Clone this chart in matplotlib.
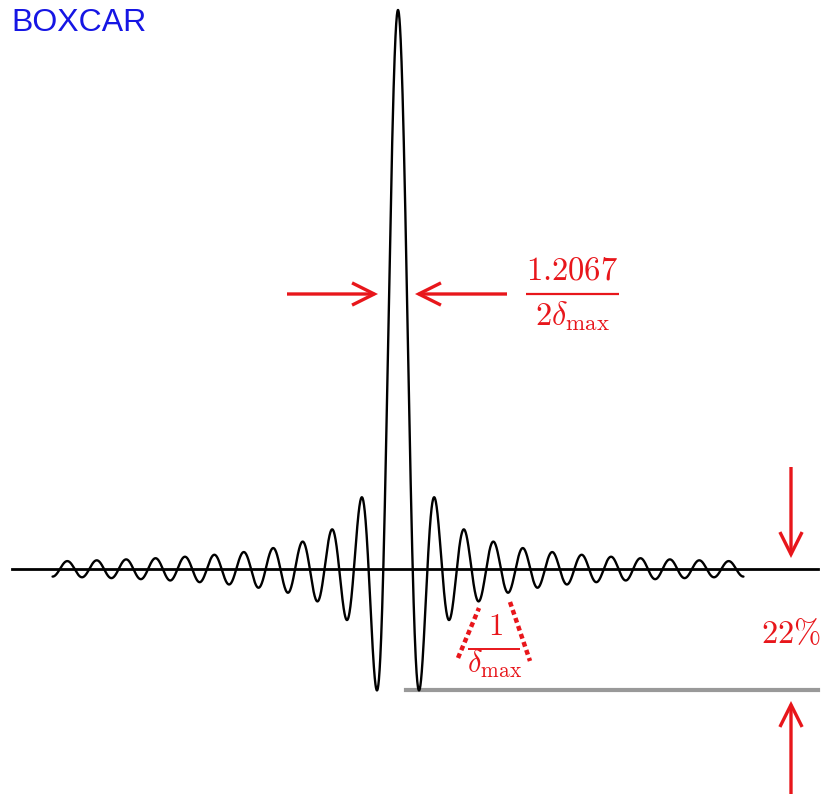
import numpy as np
import matplotlib
matplotlib.use("Agg")
import matplotlib.pyplot as plt
from matplotlib.patches import FancyArrowPatch

plt.rcParams['mathtext.fontset'] = 'cm'

# ---- data (sinc instrument line shape of a boxcar apodization) ----
x_min, x_max = -23.5, 23.5          # in units of 1/(2*delta_max)
n_points = 4000
title_text = "BOXCAR"
fwhm_num = r'$1.2067$'
fwhm_den = r'$2\delta_{\max}$'
period_num = r'$1$'
period_den = r'$\delta_{\max}$'
sidelobe_label = r'$22\%$'

u = np.linspace(x_min, x_max, n_points)
ils = np.sinc(u)
min_val = ils.min()

W, H = 823, 794
fig = plt.figure(figsize=(W / 100, H / 100), dpi=100)

# main data axes (sinc units)
ax = fig.add_axes([0, 0, 1, 1])
cx, sx = 398.0, 14.7      # pixel centre, pixels per unit
by, sy = 569.0, 559.0     # pixel baseline, pixels per unit amplitude
ax.set_xlim(-cx / sx, (W - cx) / sx)
ax.set_ylim(-(H - by) / sy, by / sy)
ax.axis('off')

ax.plot(u, ils, color='black', lw=1.7, solid_capstyle='round', zorder=3)
ax.axhline(0, xmin=12 / W, xmax=818 / W, color='black', lw=2.0, zorder=2)
ax.plot([(406 - cx) / sx, (818 - cx) / sx], [min_val, min_val],
        color='#999999', lw=3.0, zorder=2)

# overlay axes in pixel coords for annotations
ov = fig.add_axes([0, 0, 1, 1], facecolor='none')
ov.set_xlim(0, W)
ov.set_ylim(H, 0)
ov.axis('off')

red = '#e8161b'

def arrow(p0, p1):
    a = FancyArrowPatch(p0, p1, arrowstyle='->,head_length=16,head_width=8',
                        mutation_scale=1, lw=2.4, color=red,
                        shrinkA=0, shrinkB=0, joinstyle='miter',
                        capstyle='butt')
    ov.add_patch(a)

arrow((287, 294), (378, 294))
arrow((507, 294), (415, 294))
arrow((791, 467), (791, 558))
arrow((791, 800), (791, 701))

# fraction 1.2067 / (2 delta_max)
ov.text(572.5, 279, fwhm_num, color=red, fontsize=23.5, ha='center', va='baseline')
ov.plot([526, 619], [294, 294], color=red, lw=1.6, solid_capstyle='butt')
ov.text(572.5, 325, fwhm_den, color=red, fontsize=23.5, ha='center', va='baseline')

# 22 %
ov.text(791, 643, sidelobe_label, color=red, fontsize=23.5, ha='center', va='baseline')

# fraction 1 / delta_max
ov.text(495, 635, period_num, color=red, fontsize=22, ha='center', va='baseline')
ov.plot([468, 520], [649, 649], color=red, lw=1.4, solid_capstyle='butt')
ov.text(495, 673, period_den, color=red, fontsize=22, ha='center', va='baseline')

ov.plot([458, 479], [658, 608], color=red, lw=3.2, dashes=(1.1, 0.8))
ov.plot([510, 530], [602, 661], color=red, lw=3.2, dashes=(1.1, 0.8))

ov.text(11, 23, title_text, color='#1616e4', fontsize=23,
        family=['Liberation Sans', 'DejaVu Sans'], ha='left', va='center')

fig.savefig('out.png', dpi=100)
